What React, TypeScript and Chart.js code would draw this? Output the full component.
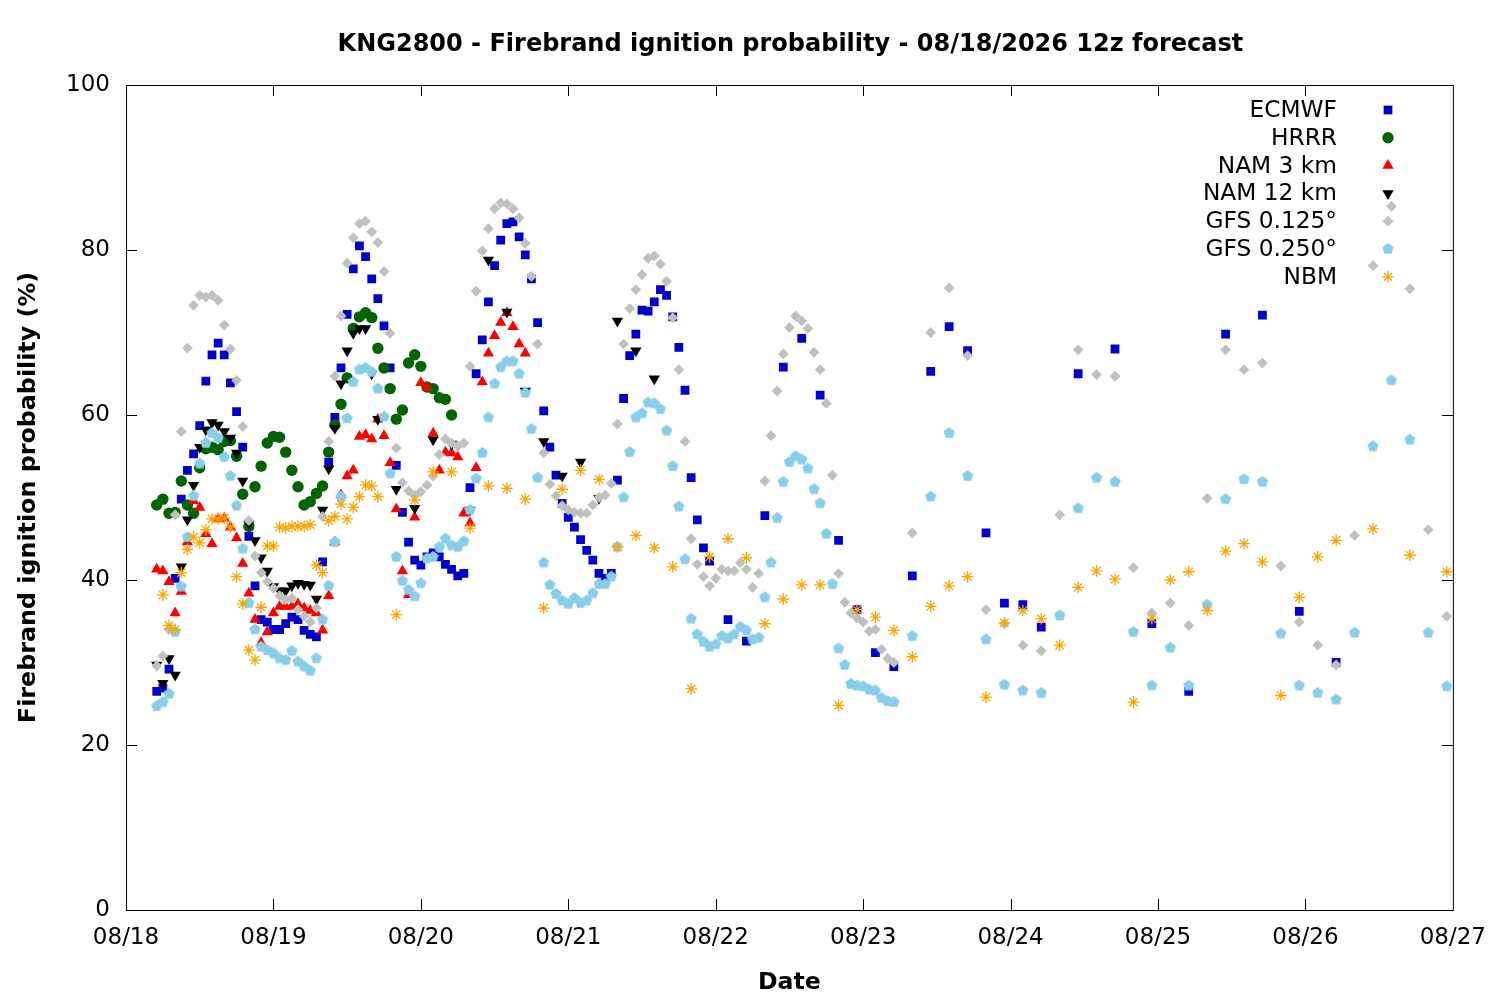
import React, { useEffect, useRef } from "react";
import { Chart, registerables } from "chart.js";
import { drawPoint } from "chart.js/helpers";

Chart.register(...registerables);

const FONT = '"DejaVu Sans", sans-serif';

const TITLE = "KNG2800 - Firebrand ignition probability - 08/18/2026 12z forecast";
const X_TITLE = "Date";
const Y_TITLE = "Firebrand ignition probability (%)";
const DATE_LABELS = ["08/18", "08/19", "08/20", "08/21", "08/22", "08/23", "08/24", "08/25", "08/26", "08/27"];
const SERIES_NAMES = ["ECMWF", "HRRR", "NAM 3 km", "NAM 12 km", "GFS 0.125°", "GFS 0.250°", "NBM"];

// forecast hours (local hours after 08/18 00:00)
const span = (from: number, to: number, step: number) => {
  const out: number[] = [];
  for (let h = from; h <= to; h += step) out.push(h);
  return out;
};

const ECMWF_HOURS = [...span(5, 95, 1), ...span(98, 149, 3), ...span(155, 197, 6)];
const ECMWF = [
  26.5, 26.9, 29.2, 40.2, 49.8, 53.3, 55.3, 58.7, 64.1, 67.3,
  68.7, 67.3, 63.9, 60.4, 56.1, 45.3, 39.3, 35.2, 34.9, 34.0,
  34.0, 34.7, 35.5, 35.2, 33.9, 33.4, 33.1, 42.2, 54.3, 59.7,
  65.7, 72.2, 77.7, 80.5, 79.2, 76.5, 74.1, 70.8, 65.7, 53.9,
  48.2, 44.6, 42.4, 41.8, 42.8, 43.3, 42.8, 41.9, 41.3, 40.5,
  40.8, 51.2, 65.0, 69.1, 73.7, 78.1, 81.2, 83.2, 83.4, 81.6,
  79.4, 76.5, 71.2, 60.5, 56.1, 52.7, 49.3, 47.6, 46.4, 44.9,
  43.6, 42.4, 40.8, 40.2, 40.8, 52.1, 62.0, 67.2, 69.8, 72.7,
  72.6, 73.7, 75.2, 74.5, 71.9, 68.2, 63.0, 52.4, 47.3, 43.9, 42.3,
  35.2, 32.6, 47.8, 65.8, 69.3, 62.4, 44.8, 36.4, 31.2, 29.5,
  40.5, 65.3, 70.7, 67.8, 45.7, 37.2, 37.0, 34.3,
  65.0, 68.0, 34.7, 26.5, 69.8, 72.1, 36.2, 30.0,
];

const HRRR_HOURS = span(5, 53, 1);
const HRRR = [
  49.1, 49.8, 48.1, 48.2, 52.0, 49.1, 48.1, 53.6, 55.9, 56.1,
  55.8, 56.8, 56.9, 55.0, 50.4, 46.5, 51.3, 53.8, 56.6, 57.4,
  57.3, 55.5, 53.3, 51.3, 49.1, 49.5, 50.5, 51.4, 55.5, 58.8,
  61.3, 64.5, 70.5, 71.9, 72.4, 71.8, 68.1, 65.7, 63.2, 59.5,
  60.6, 66.3, 67.3, 65.9, 63.4, 63.2, 62.1, 61.9, 60.0,
];

const NAM3_HOURS = span(5, 65, 1);
const NAM3 = [
  41.3, 41.1, 39.8, 36.0, 38.6, 44.6, 49.6, 48.8, 45.6, 44.4,
  47.4, 47.5, 46.4, 45.1, 42.0, 38.4, 35.2, 32.4, 33.7, 36.0,
  36.8, 36.8, 36.8, 37.1, 36.6, 36.3, 36.0, 33.9, 38.1, 44.6,
  50.3, 52.6, 53.3, 57.4, 57.6, 57.1, 59.5, 57.5, 54.2, 48.6,
  41.1, 38.2, 47.6, 63.9, 63.3, 57.8, 53.3, 55.5, 55.4, 54.9,
  48.1, 46.9, 53.6, 64.0, 67.5, 69.6, 71.2, 72.4, 70.7, 68.6, 67.5,
];

const NAM12_HOURS = [...span(5, 41, 1), ...span(44, 86, 3)];
const NAM12 = [
  29.7, 27.5, 30.5, 28.5, 41.6, 47.3, 51.5, 56.1, 58.2, 59.1,
  58.8, 58.0, 57.2, 55.4, 52.0, 46.8, 44.8, 42.7, 41.1, 39.2,
  38.7, 38.7, 39.3, 39.6, 39.5, 39.4, 37.7, 48.5, 53.5, 58.4,
  63.8, 67.8, 69.9, 70.5, 70.5, 65.0, 59.5,
  51.0, 48.7, 57.0, 56.5, 48.5, 78.8, 72.5, 62.9, 56.8, 52.6,
  54.3, 49.9, 71.4, 67.8, 64.4,
];

const GFS125_HOURS = [...span(5, 125, 1), ...span(128, 215, 3)];
const GFS125 = [
  29.6, 30.8, 34.0, 47.9, 58.0, 68.1, 73.3, 74.5, 74.3, 74.5,
  73.9, 70.9, 68.0, 64.2, 58.6, 47.2, 42.9, 40.9, 39.8, 39.0,
  38.1, 37.6, 37.8, 36.4, 35.6, 34.9, 36.6, 47.7, 56.8, 64.7,
  72.0, 78.4, 81.5, 83.2, 83.5, 82.2, 80.9, 77.4, 69.9, 56.0,
  51.8, 50.8, 50.3, 50.7, 51.5, 52.6, 55.2, 57.1, 56.6, 56.2,
  56.6, 65.9, 75.0, 79.9, 82.6, 85.0, 85.7, 85.6, 85.0, 83.9,
  80.8, 76.8, 68.6, 55.4, 51.6, 50.2, 49.0, 48.5, 48.2, 48.1,
  48.1, 49.1, 50.0, 50.3, 51.7, 58.9, 68.6, 72.9, 75.2, 77.0,
  79.0, 79.3, 78.3, 76.2, 71.8, 65.5, 56.8, 45.0, 41.9, 40.4,
  39.3, 40.2, 41.3, 41.1, 41.1, 42.1, 41.3, 39.1, 40.8, 52.0,
  57.5, 62.9, 67.4, 70.6, 72.0, 71.4, 70.5, 67.6, 65.5, 61.4,
  52.7, 40.8, 37.3, 36.0, 35.4, 34.9, 33.8, 34.0, 31.6, 30.5, 30.0,
  45.7, 70.0, 75.4, 67.2, 36.4, 34.7, 32.1, 31.4, 47.9, 67.9,
  64.9, 64.7, 41.5, 36.0, 37.2, 34.5, 49.9, 67.9, 65.5, 66.3,
  41.7, 34.9, 32.1, 29.7, 45.4, 78.1, 85.3, 75.3, 46.1, 35.6,
];

const GFS250_HOURS = [...span(5, 125, 1), ...span(128, 215, 3)];
const GFS250 = [
  24.7, 25.2, 26.2, 33.7, 39.2, 45.2, 50.2, 54.1, 56.6, 57.8,
  57.2, 54.9, 52.6, 49.0, 43.8, 37.2, 34.0, 31.9, 31.5, 31.1,
  30.5, 30.3, 31.4, 30.1, 29.5, 29.0, 30.5, 35.2, 39.3, 44.6,
  50.1, 59.6, 64.0, 65.5, 65.7, 65.2, 63.2, 59.8, 52.9, 42.8,
  39.9, 38.8, 38.0, 39.6, 42.6, 42.8, 44.0, 45.0, 44.2, 44.0,
  44.7, 48.5, 52.3, 55.4, 59.7, 63.8, 65.8, 66.5, 66.5, 65.0,
  62.7, 58.3, 52.4, 42.1, 39.4, 38.3, 37.5, 37.1, 37.8, 37.2,
  37.5, 38.4, 39.5, 39.5, 40.4, 44.0, 50.0, 55.5, 59.7, 60.2,
  61.5, 61.4, 60.7, 58.1, 53.8, 48.9, 42.5, 35.3, 33.4, 32.5,
  31.9, 32.2, 33.2, 32.9, 33.4, 34.3, 33.9, 32.8, 33.0, 37.9,
  42.1, 47.5, 51.9, 54.3, 55.0, 54.6, 53.5, 51.0, 49.3, 45.6,
  39.5, 31.7, 29.7, 27.4, 27.2, 27.1, 26.7, 26.6, 25.7, 25.3, 25.2,
  33.2, 50.1, 57.8, 52.6, 32.8, 27.3, 26.6, 26.3, 35.7, 48.7,
  52.4, 51.9, 33.7, 27.2, 31.8, 27.2, 37.0, 49.8, 52.2, 51.9,
  33.5, 27.2, 26.3, 25.5, 33.6, 56.2, 64.2, 57.0, 33.6, 27.1,
];

const NBM_HOURS = [...span(6, 41, 1), ...span(44, 197, 3), ...span(203, 215, 6)];
const NBM = [
  38.2, 34.5, 34.0, 40.9, 43.7, 45.2, 44.5, 46.1, 47.4, 47.4,
  47.5, 46.4, 40.4, 37.1, 31.5, 30.3, 36.7, 44.1, 44.1, 46.4,
  46.3, 46.5, 46.5, 46.5, 46.7, 41.8, 40.9, 47.2, 47.7, 49.2,
  47.4, 48.8, 50.1, 51.5, 51.4, 50.1,
  35.8, 49.7, 53.1, 53.1, 46.3, 51.4, 51.1, 49.8, 36.6, 51.0,
  53.3, 52.2, 44.0, 45.4, 43.9, 41.6, 26.8, 42.8, 45.0, 42.7,
  34.7, 37.7, 39.4, 39.4, 24.8, 36.4, 35.5, 33.9, 30.7, 36.8,
  39.3, 40.4, 25.8, 34.8, 36.3, 35.3, 32.1, 39.1, 41.1, 40.1,
  25.2, 35.3, 40.0, 41.0, 36.3, 43.5, 44.4, 42.2, 26.0, 37.9,
  42.8, 44.8,
  46.2, 43.0, 41.0,
];

const ALL_HOURS = [ECMWF_HOURS, HRRR_HOURS, NAM3_HOURS, NAM12_HOURS, GFS125_HOURS, GFS250_HOURS, NBM_HOURS];
const ALL_VALUES = [ECMWF, HRRR, NAM3, NAM12, GFS125, GFS250, NBM];

function makePentagon(color: string, r: number) {
  const c = document.createElement("canvas");
  const s = Math.ceil(r * 2 + 2);
  c.width = s;
  c.height = s;
  const g = c.getContext("2d")!;
  g.fillStyle = color;
  g.beginPath();
  for (let i = 0; i < 5; i++) {
    const a = -Math.PI / 2 + (i * 2 * Math.PI) / 5;
    g.lineTo(s / 2 + r * Math.cos(a), s / 2 + r * Math.sin(a));
  }
  g.closePath();
  g.fill();
  return c;
}

type Marker = { color: string; pointStyle: any; radius: number; rotation: number; borderWidth: number };

function markers(): Marker[] {
  return [
    { color: "#0000cd", pointStyle: "rect", radius: 6.2, rotation: 0, borderWidth: 0 },
    { color: "#006400", pointStyle: "circle", radius: 5.7, rotation: 0, borderWidth: 0 },
    { color: "#ff0000", pointStyle: "triangle", radius: 6.5, rotation: 0, borderWidth: 0 },
    { color: "#000000", pointStyle: "triangle", radius: 6.5, rotation: 180, borderWidth: 0 },
    { color: "#c0c0c0", pointStyle: "rectRot", radius: 5.4, rotation: 0, borderWidth: 0 },
    { color: "#87ceeb", pointStyle: makePentagon("#87ceeb", 5.9), radius: 6, rotation: 0, borderWidth: 0 },
    { color: "#ffa500", pointStyle: "star", radius: 5.8, rotation: 0, borderWidth: 1.3 },
  ];
}

const TICK = 11;

const framePlugin = (styles: Marker[]) => ({
  id: "gnuframe",
  beforeDatasetsDraw(chart: any) {
    const { ctx, chartArea: a, scales } = chart;
    ctx.save();
    ctx.strokeStyle = "#000";
    ctx.lineWidth = 1;
    ctx.strokeRect(a.left + 0.5, a.top + 0.5, a.right - a.left, a.bottom - a.top);
    ctx.beginPath();
    for (let v = 20; v < 100; v += 20) {
      const py = Math.round(scales.y.getPixelForValue(v)) + 0.5;
      ctx.moveTo(a.left, py);
      ctx.lineTo(a.left + TICK, py);
      ctx.moveTo(a.right, py);
      ctx.lineTo(a.right - TICK, py);
    }
    for (let i = 1; i < DATE_LABELS.length - 1; i++) {
      const px = Math.round(scales.x.getPixelForValue(i * 24)) + 0.5;
      ctx.moveTo(px, a.bottom);
      ctx.lineTo(px, a.bottom - TICK);
      ctx.moveTo(px, a.top);
      ctx.lineTo(px, a.top + TICK);
    }
    ctx.stroke();
    ctx.restore();
  },
  afterDraw(chart: any) {
    const { ctx, chartArea: a } = chart;
    ctx.save();
    ctx.fillStyle = "#000";
    ctx.textAlign = "center";
    ctx.textBaseline = "alphabetic";
    const cx = (a.left + a.right) / 2;
    ctx.font = `bold 24px ${FONT}`;
    ctx.fillText(TITLE, cx + 1, 51);
    ctx.font = `bold 23.6px ${FONT}`;
    ctx.fillText(X_TITLE, cx, 989);
    ctx.save();
    ctx.translate(35, (a.top + a.bottom) / 2);
    ctx.rotate(-Math.PI / 2);
    ctx.font = `bold 23.8px ${FONT}`;
    ctx.fillText(Y_TITLE, 0, 0);
    ctx.restore();

    // legend: label right-aligned, marker to the right
    ctx.font = `23.3px ${FONT}`;
    ctx.textAlign = "right";
    ctx.textBaseline = "middle";
    SERIES_NAMES.forEach((name, i) => {
      const y = 110 + i * 27.8;
      ctx.fillStyle = "#000";
      ctx.fillText(name, 1337, y + 1);
      const s = styles[i];
      ctx.fillStyle = s.color;
      ctx.strokeStyle = s.color;
      ctx.lineWidth = s.borderWidth || 1;
      drawPoint(ctx, { pointStyle: s.pointStyle, rotation: s.rotation, radius: s.radius, borderWidth: s.borderWidth }, 1388, y);
    });
    ctx.restore();
  },
});

const App: React.FC = () => {
  const canvasRef = useRef<HTMLCanvasElement>(null);

  useEffect(() => {
    if (!canvasRef.current) return;
    const ctx = canvasRef.current.getContext("2d");
    if (!ctx) return;
    const styles = markers();

    const datasets = SERIES_NAMES.map((name, i) => ({
      label: name,
      data: ALL_HOURS[i].map((h, j) => ({ x: h, y: ALL_VALUES[i][j] })),
      order: SERIES_NAMES.length - i,
      showLine: false,
      pointStyle: styles[i].pointStyle,
      pointRadius: styles[i].radius,
      pointRotation: styles[i].rotation,
      pointBackgroundColor: styles[i].color,
      pointBorderColor: styles[i].color,
      pointBorderWidth: styles[i].borderWidth,
      backgroundColor: styles[i].color,
      borderColor: styles[i].color,
      borderWidth: styles[i].borderWidth,
      pointHoverRadius: styles[i].radius,
    }));

    const tickFont = { family: FONT, size: 23 };

    const chart = new Chart(ctx, {
      type: "scatter",
      data: { datasets },
      options: {
        animation: false,
        responsive: false,
        devicePixelRatio: 1,
        events: [],
        layout: { padding: { top: 85, right: 46, left: 0, bottom: 0 } },
        plugins: {
          legend: { display: false },
          tooltip: { enabled: false },
          title: { display: false },
        },
        scales: {
          x: {
            type: "linear",
            min: 0,
            max: 216,
            grid: { display: false, drawTicks: false },
            border: { display: false },
            ticks: {
              stepSize: 24,
              padding: 14,
              color: "#000",
              font: tickFont,
              maxRotation: 0,
              autoSkip: false,
              callback: (v: any) => DATE_LABELS[Math.round(Number(v) / 24)] ?? "",
            },
            afterFit: (s: any) => {
              s.height = 90;
            },
          },
          y: {
            min: 0,
            max: 100,
            grid: { display: false, drawTicks: false },
            border: { display: false },
            ticks: { stepSize: 20, padding: 16, color: "#000", font: tickFont },
            afterFit: (s: any) => {
              s.width = 126;
            },
          },
        },
      } as any,
      plugins: [framePlugin(styles)],
    });

    return () => {
      chart.destroy();
    };
  }, []);

  return (
    <div style={{ position: "fixed", left: 0, top: 0, width: 1500, height: 1000, background: "#fff" }}>
      <canvas ref={canvasRef} width={1500} height={1000} />
    </div>
  );
};

export default App;
